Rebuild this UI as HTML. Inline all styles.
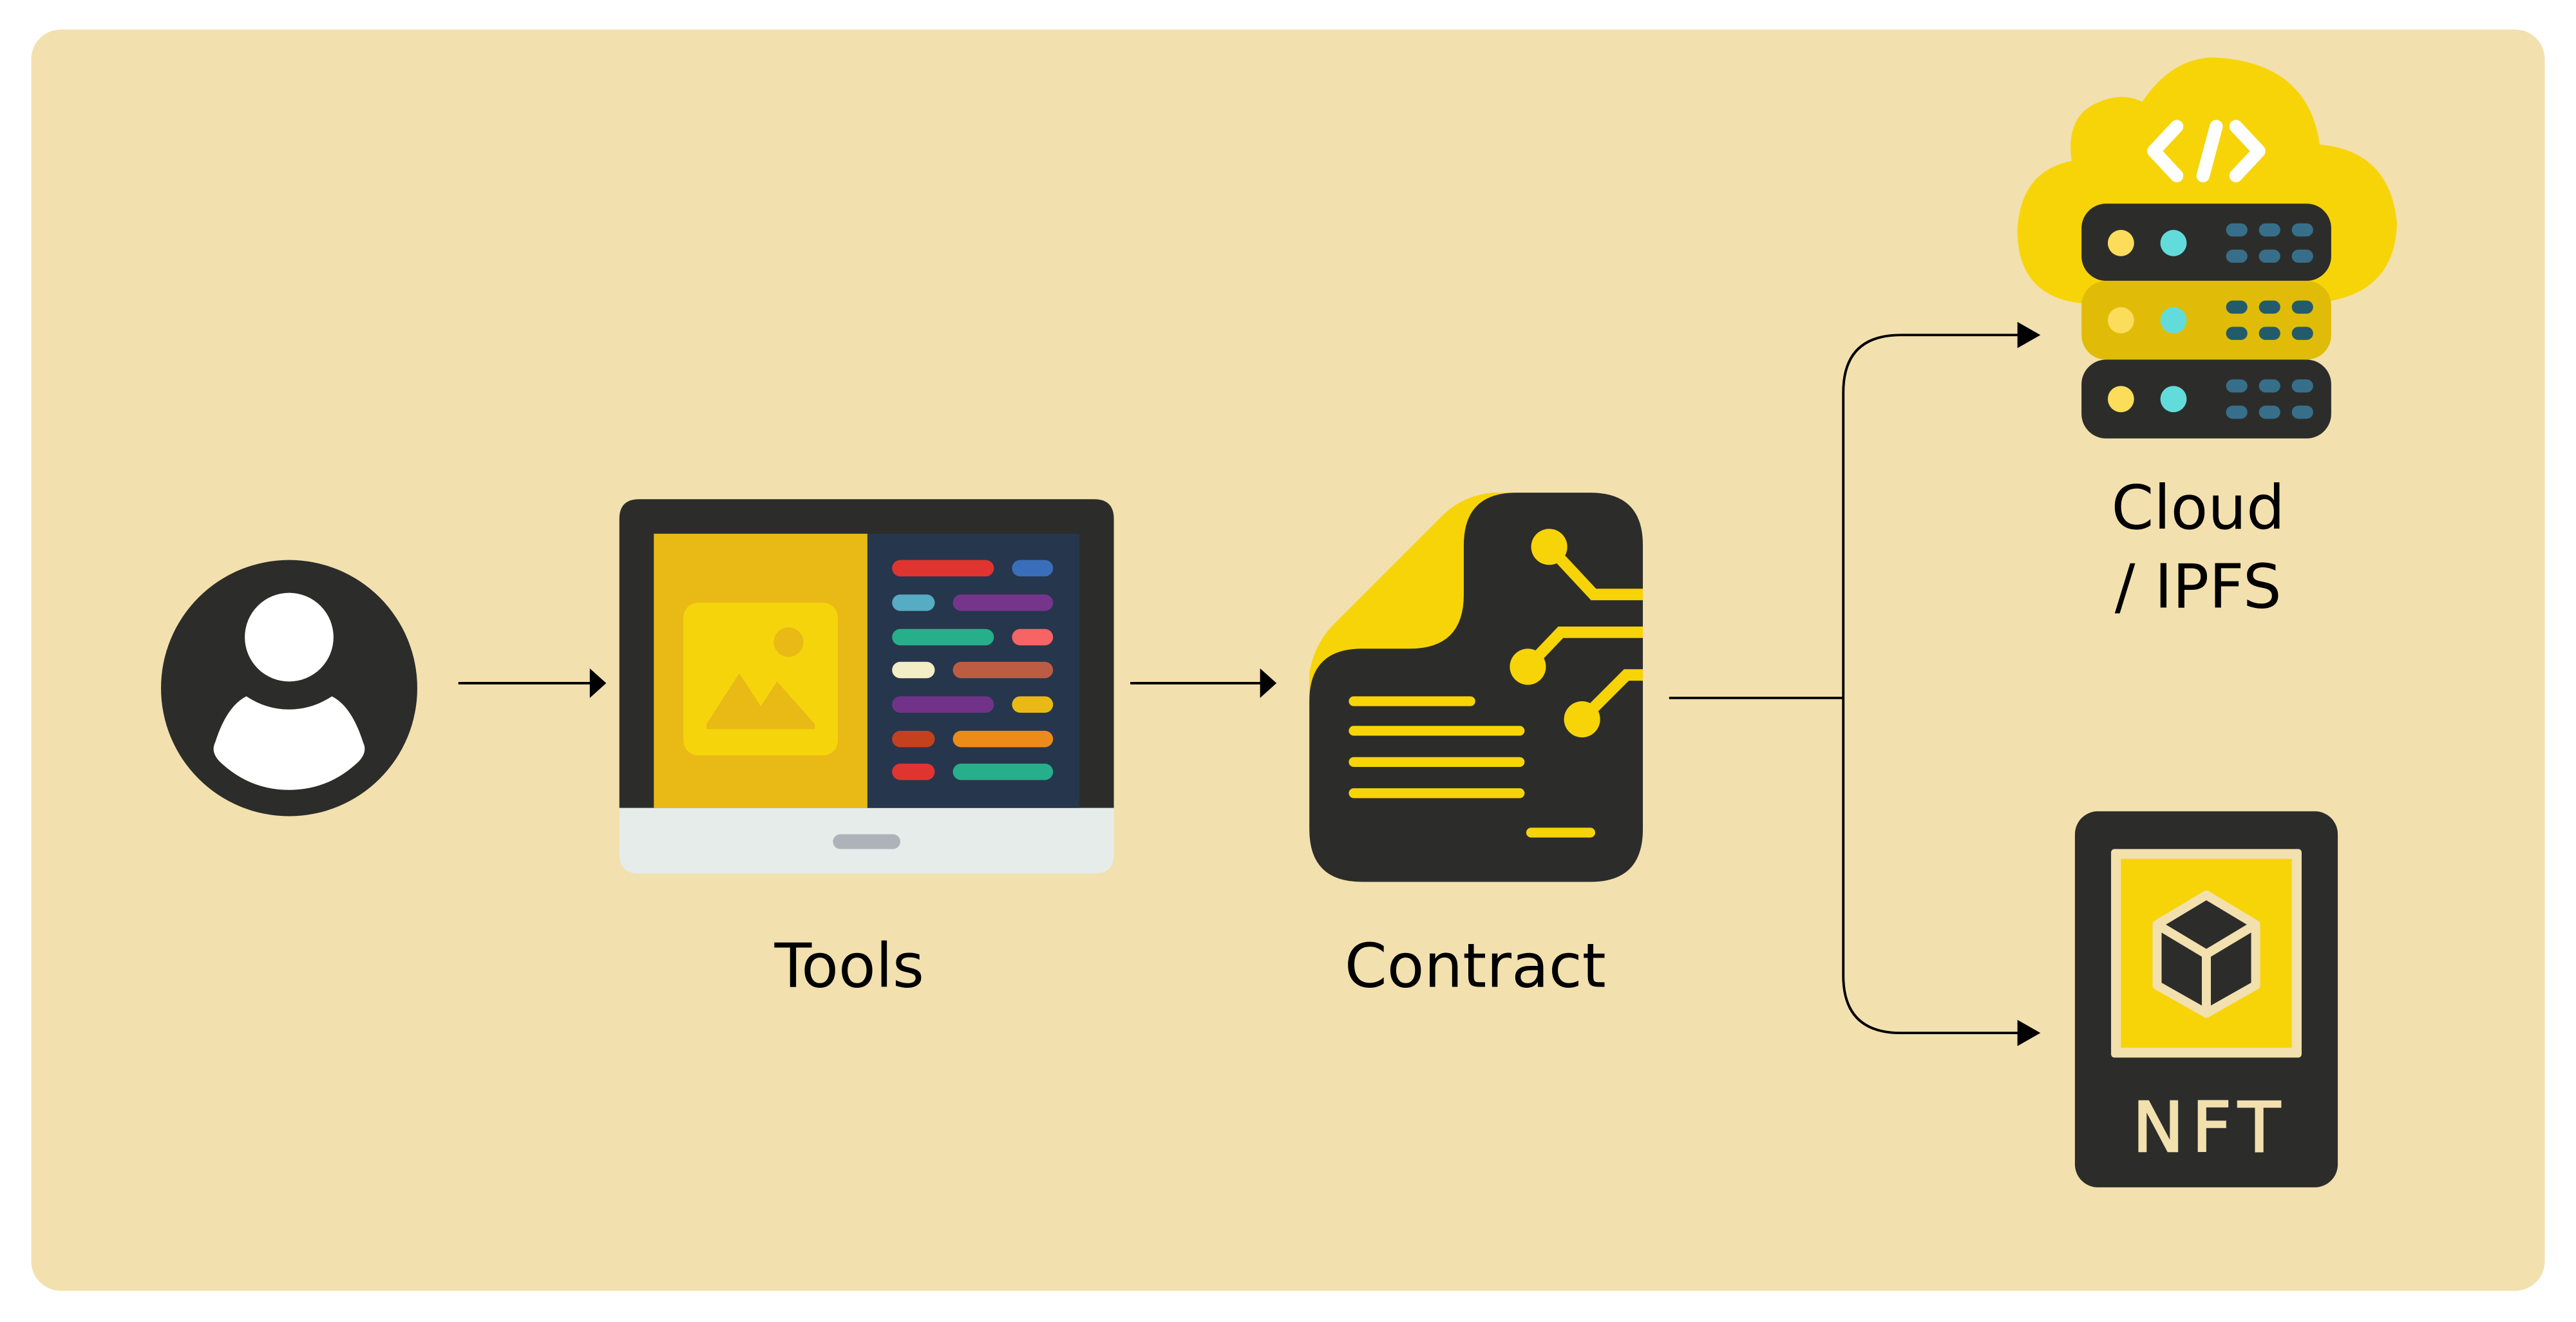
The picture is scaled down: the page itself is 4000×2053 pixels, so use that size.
<!DOCTYPE html>
<html><head><meta charset="utf-8"><style>
html,body{margin:0;padding:0;background:#fff;width:4000px;height:2053px;overflow:hidden}
svg{display:block}
text{font-family:"DejaVu Sans","Liberation Sans",sans-serif}
</style></head><body>
<svg width="4000" height="2053" viewBox="0 0 1568 805" preserveAspectRatio="none" xmlns="http://www.w3.org/2000/svg">
<rect x="19" y="18" width="1530" height="768" rx="18" fill="#f2e0ae"/>

<!-- user -->
<circle cx="176" cy="419" r="78" fill="#2c2d2a"/>
<circle cx="176" cy="388" r="31" fill="#2c2d2a"/>
<circle cx="176" cy="388" r="27" fill="#fff"/>
<path d="M131,452 Q138,430 150,424 Q162,432 176,432 Q190,432 202,424 Q214,430 221,452 Q224,458 218,464 Q200,481 176,481 Q152,481 134,464 Q128,458 131,452 Z" fill="#fff"/>

<!-- arrows -->
<line x1="279" y1="416" x2="362" y2="416" stroke="#000" stroke-width="1.5"/>
<path d="M359,407 L369,416 L359,425 Z" fill="#000"/>
<line x1="688" y1="416" x2="770" y2="416" stroke="#000" stroke-width="1.5"/>
<path d="M767,407 L777,416 L767,425 Z" fill="#000"/>

<!-- laptop -->
<path d="M377,492 L377,316 Q377,304 389,304 L666,304 Q678,304 678,316 L678,492 Z" fill="#2c2d2a"/>
<path d="M377,492 L678,492 L678,520 Q678,532 666,532 L389,532 Q377,532 377,520 Z" fill="#e6ecea"/>
<rect x="507" y="508" width="41" height="9" rx="4.5" fill="#adb3b8"/>
<rect x="398" y="325" width="130" height="167" fill="#e9b916"/>
<rect x="528" y="325" width="129" height="167" fill="#26364d"/>
<rect x="416" y="367" width="94" height="93" rx="9" fill="#f6d40b"/>
<circle cx="480" cy="391" r="9" fill="#e9b916"/>
<path d="M430,441 L450,410 L463,430 L473,415 L496,441 L496,444 L430,444 Z" fill="#e9b916"/>
<g>
<rect x="543" y="341" width="62" height="10" rx="5" fill="#e03431"/>
<rect x="616" y="341" width="25" height="10" rx="5" fill="#3a6eba"/>
<rect x="543" y="362" width="26" height="10" rx="5" fill="#56acc2"/>
<rect x="580" y="362" width="61" height="10" rx="5" fill="#75358b"/>
<rect x="543" y="383" width="62" height="10" rx="5" fill="#26af8a"/>
<rect x="616" y="383" width="25" height="10" rx="5" fill="#f66464"/>
<rect x="543" y="403" width="26" height="10" rx="5" fill="#f4eec6"/>
<rect x="580" y="403" width="61" height="10" rx="5" fill="#bd5c45"/>
<rect x="543" y="424" width="62" height="10" rx="5" fill="#71338a"/>
<rect x="616" y="424" width="25" height="10" rx="5" fill="#e9b916"/>
<rect x="543" y="445" width="26" height="10" rx="5" fill="#c4411d"/>
<rect x="580" y="445" width="61" height="10" rx="5" fill="#ed8b1a"/>
<rect x="543" y="465" width="26" height="10" rx="5" fill="#e03431"/>
<rect x="580" y="465" width="61" height="10" rx="5" fill="#26af8a"/>
</g>
<text x="517" y="601" font-size="37" text-anchor="middle" fill="#000">Tools</text>

<!-- contract -->
<path d="M797,430 L797,410 Q800,392 812,380 L878,314 Q890,302 908,300 L935,300 L935,400 L797,430 Z" fill="#f7d408"/>
<path d="M923,300 L968,300 Q1000,300 1000,332 L1000,505 Q1000,537 968,537 L829,537 Q797,537 797,505 L797,427 Q797,395 829,395 L858,395 Q891,395 891,362 L891,332 Q891,300 923,300 Z" fill="#2c2d2a"/>
<g stroke="#f7d408" stroke-width="7" fill="none" stroke-linecap="butt">
<polyline points="943,333 970,362 1000,362"/>
<polyline points="930,406 950,385 1000,385"/>
<polyline points="963,438 990,411 1000,411"/>
</g>
<circle cx="943" cy="333" r="11" fill="#f7d408"/>
<circle cx="930" cy="406" r="11" fill="#f7d408"/>
<circle cx="963" cy="438" r="11" fill="#f7d408"/>
<g fill="#f7d408">
<rect x="821" y="424" width="77" height="6" rx="3"/>
<rect x="821" y="442" width="107" height="6" rx="3"/>
<rect x="821" y="461" width="107" height="6" rx="3"/>
<rect x="821" y="480" width="107" height="6" rx="3"/>
<rect x="929" y="504" width="42" height="6" rx="3"/>
</g>
<text x="898" y="601" font-size="37" text-anchor="middle" fill="#000">Contract</text>

<!-- branching connector -->
<path d="M1016,425 L1122,425" stroke="#000" stroke-width="1.5" fill="none"/>
<path d="M1232,204 L1157,204 Q1122,204 1122,239 L1122,594 Q1122,629 1157,629 L1232,629" stroke="#000" stroke-width="1.5" fill="none"/>
<path d="M1228,196 L1242,204 L1228,212 Z" fill="#000"/>
<path d="M1228,621 L1242,629 L1228,637 Z" fill="#000"/>

<!-- cloud -->
<path d="M1270,185 Q1228,182 1228,140 Q1230,104 1261,98 Q1257,70 1278,62 Q1292,56 1304,62 Q1322,35 1348,35 Q1405,38 1412,88 Q1455,92 1459,136 Q1458,178 1414,184 Z" fill="#f7d408"/>
<g stroke="#fff" stroke-width="8" stroke-linecap="round" stroke-linejoin="round" fill="none">
<polyline points="1325,77 1311,92 1325,107"/>
<polyline points="1361,77 1375,92 1361,107"/>
<line x1="1349" y1="77" x2="1341" y2="107"/>
</g>
<g>
<rect x="1267" y="124" width="152" height="47" rx="15" fill="#2c2d2a"/>
<rect x="1267" y="171" width="152" height="48" rx="15" fill="#e0bc08"/>
<rect x="1267" y="219" width="152" height="48" rx="15" fill="#2c2d2a"/>
</g>
<g>
<circle cx="1291" cy="148" r="8" fill="#fbdc5b"/><circle cx="1323" cy="148" r="8" fill="#62dcdb"/>
<circle cx="1291" cy="195" r="8" fill="#fbdc5b"/><circle cx="1323" cy="195" r="8" fill="#62dcdb"/>
<circle cx="1291" cy="243" r="8" fill="#fbdc5b"/><circle cx="1323" cy="243" r="8" fill="#62dcdb"/>
</g>
<g fill="#376f8a">
<rect x="1355" y="136" width="13" height="8" rx="4"/><rect x="1375" y="136" width="13" height="8" rx="4"/><rect x="1395" y="136" width="13" height="8" rx="4"/>
<rect x="1355" y="152" width="13" height="8" rx="4"/><rect x="1375" y="152" width="13" height="8" rx="4"/><rect x="1395" y="152" width="13" height="8" rx="4"/>
<rect x="1355" y="231" width="13" height="8" rx="4"/><rect x="1375" y="231" width="13" height="8" rx="4"/><rect x="1395" y="231" width="13" height="8" rx="4"/>
<rect x="1355" y="247" width="13" height="8" rx="4"/><rect x="1375" y="247" width="13" height="8" rx="4"/><rect x="1395" y="247" width="13" height="8" rx="4"/>
</g>
<g fill="#245b6b">
<rect x="1355" y="183" width="13" height="8" rx="4"/><rect x="1375" y="183" width="13" height="8" rx="4"/><rect x="1395" y="183" width="13" height="8" rx="4"/>
<rect x="1355" y="199" width="13" height="8" rx="4"/><rect x="1375" y="199" width="13" height="8" rx="4"/><rect x="1395" y="199" width="13" height="8" rx="4"/>
</g>
<text x="1338" y="322" font-size="37" text-anchor="middle" fill="#000">Cloud</text>
<text x="1338" y="370" font-size="37" text-anchor="middle" fill="#000">/ IPFS</text>

<!-- NFT -->
<rect x="1263" y="494" width="160" height="229" rx="14" fill="#2c2d2a"/>
<rect x="1285" y="517" width="116" height="127" rx="2" fill="#f2e0ae"/>
<rect x="1291" y="523" width="104" height="115" fill="#f7d408"/>
<g stroke="#f2e0ae" stroke-width="5.5" fill="#2c2d2a" stroke-linejoin="round">
<polygon points="1343,545 1373,563 1373,600 1343,617 1313,600 1313,563"/>
<polyline points="1313,563 1343,581 1373,563" fill="none"/>
<line x1="1343" y1="581" x2="1343" y2="617"/>
</g>
<text x="1298" y="701" font-size="42" textLength="90" lengthAdjust="spacing" fill="#f2e0ae" stroke="#f2e0ae" stroke-width="1">NFT</text>
</svg>
</body></html>
